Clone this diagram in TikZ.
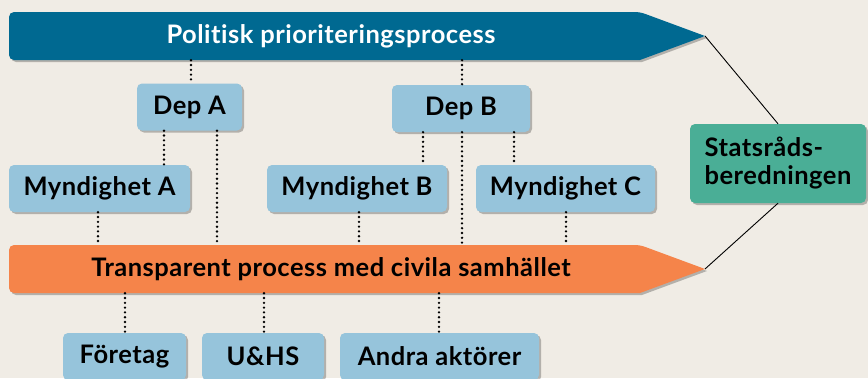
\documentclass[tikz,border=0pt]{standalone}
\usepackage{fontspec}
\setmainfont[Ligatures=NoCommon, LetterSpace=2]{Lato}
\usetikzlibrary{shadows}

\definecolor{bgbeige}{RGB}{240,236,229}
\definecolor{polblue}{RGB}{0,105,145}
\definecolor{boxblue}{RGB}{150,196,219}
\definecolor{traorange}{RGB}{245,132,74}
\definecolor{sbgreen}{RGB}{74,174,150}

\tikzset{
  every node/.style={font=\bfseries\fontsize{25.5}{28}\selectfont},
  softshadow/.style={drop shadow={shadow xshift=2pt, shadow yshift=-2pt, opacity=.25, fill=black}},
  box/.style={fill=boxblue, rounded corners=5pt, minimum height=47pt, inner sep=0pt, softshadow},
  barlabel/.style={minimum height=48pt, inner sep=0pt},
  link/.style={line width=2.6pt, line cap=round, dash pattern=on 0pt off 4.8pt},
}

\begin{document}
\begin{tikzpicture}[x=1pt,y=-1pt]
  \useasboundingbox (0,0) rectangle (868,378);
  \clip (0,0) rectangle (868,378);
  \fill[bgbeige] (0,0) rectangle (868,378);

  % the two process bars
  \fill[polblue, softshadow] (705,36) coordinate (ptip) -- (640,60) [rounded corners=5pt] -- (9,60) -- (9,12) -- (640,12) [sharp corners] -- cycle;
  \fill[traorange, softshadow] (705,269) coordinate (ttip) -- (640,293) [rounded corners=5pt] -- (9,293) -- (9,245) -- (640,245) [sharp corners] -- cycle;
  \node[barlabel, text=white] (pol) at (331,36) {Politisk prioriteringsprocess};
  \node[barlabel] (tra) at (331,269) {Transparent process med civila samhället};

  \node[box, minimum width=105pt] (depA) at (189.5,107) {Dep A};
  \node[box, minimum width=138pt] (depB) at (461,108.5) {Dep B};
  \node[box, minimum width=181pt] (mynA) at (99.5,188.5) {Myndighet A};
  \node[box, minimum width=180pt] (mynB) at (357,188.5) {Myndighet B};
  \node[box, minimum width=179pt] (mynC) at (565.5,188.5) {Myndighet C};
  \node[box, fill=sbgreen, minimum width=176pt, minimum height=79pt, align=left] (stat) at (778,163.5) {Statsråds-\\beredningen};
  \node[box, minimum width=123pt] (foretag) at (124.5,356.5) {Företag};
  \node[box, minimum width=122pt] (uhs) at (263,356.5) {U\&HS};
  \node[box, minimum width=199pt] (andra) at (439.5,356.5) {Andra aktörer};

  \foreach \x/\from/\to in {191/pol/depA, 462/pol/depB, 164/depA/mynA, 217/depA/tra,
      423/depB/mynB, 462/depB/tra, 514/depB/mynC, 98/mynA/tra, 359/mynB/tra,
      566/mynC/tra, 125/tra/foretag, 264/tra/uhs, 439/tra/andra}
    \draw[link] (\x,0 |- \from.south) -- (\x,0 |- \to.north);

  \draw[line width=0.9pt] (ptip) -- (stat.north);
  \draw[line width=0.9pt] (ttip) -- (stat.south);
\end{tikzpicture}
\end{document}
